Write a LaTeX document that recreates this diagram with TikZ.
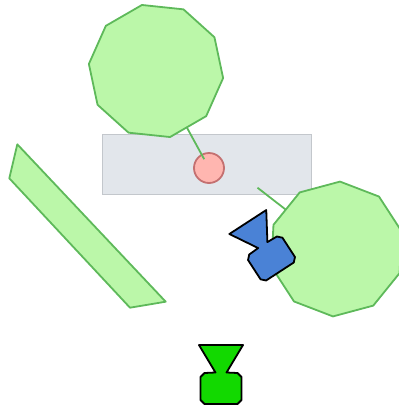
\documentclass[tikz,border=0pt]{standalone}
\usetikzlibrary{shapes.geometric}
\definecolor{lgreen}{HTML}{BBF7A9}
\definecolor{gstroke}{HTML}{5EB95A}
\definecolor{panelfill}{HTML}{E2E6EB}
\definecolor{panelstroke}{HTML}{C3C7CC}
\definecolor{pinkfill}{HTML}{FFB6B0}
\definecolor{pinkstroke}{HTML}{C47070}
\definecolor{bluefill}{HTML}{4A82D6}
\definecolor{brightgreen}{HTML}{12D900}
\newcommand{\vasepath}{(-22,-43.5) -- (22,-43.5) -- (5.5,-16) -- (16.5,-15.5) -- (20.5,-11.5) -- (20.5,11.5) -- (16.5,15.5) -- (-16.5,15.5) -- (-20.5,11.5) -- (-20.5,-11.5) -- (-16.5,-15.5) -- (-5.5,-16) -- cycle}
\begin{document}
\begin{tikzpicture}[x=1pt,y=-1pt,
  poly/.style={draw=gstroke, fill=lgreen, line width=1.8pt, line join=round},
  deca/.style={poly, regular polygon, regular polygon sides=10, minimum size=135pt, inner sep=0pt, outer sep=0pt},
  panelbox/.style={draw=panelstroke, fill=panelfill, line width=1pt, minimum width=209pt, minimum height=60pt, inner sep=0pt, outer sep=0pt},
  dotstyle/.style={circle, draw=pinkstroke, fill=pinkfill, line width=1.8pt, minimum size=30pt, inner sep=0pt, outer sep=0pt},
  edge/.style={draw=gstroke, line width=1.8pt},
  vase/.style={draw=black, line width=1.8pt, line join=round}]
\useasboundingbox (0,0) rectangle (399,413);
\clip (0,0) rectangle (399,413);
\node[panelbox] (panel) at (207.2,164.2) {};
\node[deca, shape border rotate=-6] (top) at (156,71) {};
\node[deca, shape border rotate=15] (right) at (336.5,249) {};
\draw[poly] (17.3,144.3) -- (9.3,178.3) -- (130,307.7) -- (165.7,301.7) -- cycle;
\node[dotstyle] (dot) at (209,168) {};
\coordinate (tail) at (257.5,187.7);
\draw[edge, shorten >=-5pt] (top) -- (dot);
\draw[edge] (tail) -- (right);
\begin{scope}[shift={(271.5,258.5)}, rotate=33]
  \draw[vase, fill=bluefill] \vasepath;
\end{scope}
\begin{scope}[shift={(221,388.5)}]
  \draw[vase, fill=brightgreen] \vasepath;
\end{scope}
\end{tikzpicture}
\end{document}
